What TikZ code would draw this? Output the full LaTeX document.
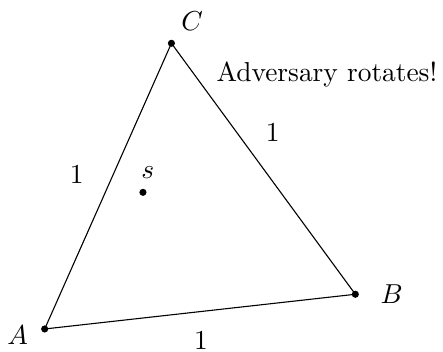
\documentclass[tikz,border=0pt]{standalone}
\usepackage{amsmath,amssymb}
\usepackage{tikz}
\usetikzlibrary{positioning,calc}

\begin{document}
\begin{tikzpicture}[x=1cm,y=1cm,dot/.style={circle,fill,inner sep=0pt,minimum size=2.6pt}]
  \useasboundingbox (0,0) rectangle (5.68,4.513);
  \node[dot] (A) at (0.573,0.295) {};
  \node[dot] (B) at (4.556,0.740) {};
  \node[dot] (C) at (2.198,3.958) {};
  \node[dot] (s) at (1.833,2.047) {};
  \draw (A.center) -- (B.center) -- (C.center) -- cycle;
  \node (labA) at (0.227,0.218) {$A$};
  \node (labB) at (5.022,0.744) {$B$};
  \node (labC) at (2.465,4.248) {$C$};
  \node (labs) at (1.894,2.295) {$s$};
  \node (lenAC) at (0.983,2.269) {$1$};
  \node (lenBC) at (3.496,2.817) {$1$};
  \node (lenAB) at (2.577,0.147) {$1$};
  \node[anchor=base west,inner sep=0pt] (adv) at (2.77,3.465) {Adversary rotates!};
\end{tikzpicture}
\end{document}
